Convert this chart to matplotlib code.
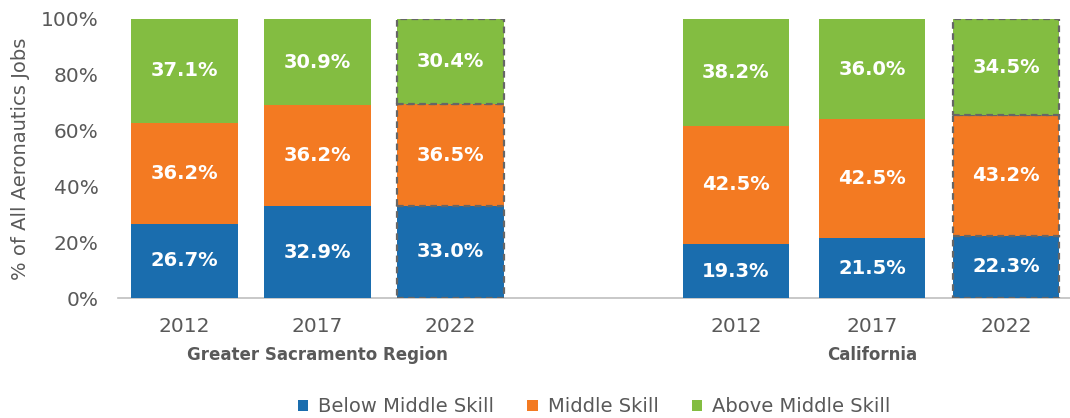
import matplotlib
matplotlib.use("Agg")
import matplotlib.pyplot as plt
from matplotlib.patches import Patch

years = ["2012", "2017", "2022", "2012", "2017", "2022"]
regions = ["Greater Sacramento Region", "California"]
below = [26.7, 32.9, 33.0, 19.3, 21.5, 22.3]
middle = [36.2, 36.2, 36.5, 42.5, 42.5, 43.2]
above = [37.1, 30.9, 30.4, 38.2, 36.0, 34.5]
series_names = ["Below Middle Skill", "Middle Skill", "Above Middle Skill"]
colors = ["#1A6DAE", "#F37A22", "#83BD41"]
projected = [False, False, True, False, False, True]

xpos = [0, 1, 2, 4.147, 5.17, 6.18]
W, H = 1070, 418
fig = plt.figure(figsize=(W/100, H/100), dpi=100)
ax = fig.add_axes([118/W, (H-298)/H, (1070-118)/W, (298-19)/H])

gray = "#595959"
fam = ["DejaVu Sans"]
bottoms = [0]*6
for vals, col, name in zip([below, middle, above], colors, series_names):
    for i, v in enumerate(vals):
        if projected[i]:
            ax.bar(xpos[i], v, 0.8, bottom=bottoms[i], color=col,
                   edgecolor="#666666", linewidth=1.6, linestyle=(0, (3, 2)), zorder=3)
        else:
            ax.bar(xpos[i], v, 0.8, bottom=bottoms[i], color=col, linewidth=0, zorder=3)
        ax.text(xpos[i], bottoms[i] + v/2, f"{v:.1f}%", ha="center", va="center",
                color="white", fontsize=14, fontweight="bold", family=fam, zorder=4)
        bottoms[i] += v

ax.set_xlim(-0.5, 6.66)
ax.set_ylim(0, 100)
ax.set_yticks([0, 20, 40, 60, 80, 100])
ax.set_yticklabels([f"{t}%" for t in [0, 20, 40, 60, 80, 100]])
ax.set_xticks(xpos)
ax.set_xticklabels(years)
ax.tick_params(axis="both", length=0, labelsize=14.5, colors=gray)
ax.tick_params(axis="x", pad=14)
ax.tick_params(axis="y", pad=14)
for s in ["top", "right", "left"]:
    ax.spines[s].set_visible(False)
ax.spines["bottom"].set_color("#BFBFBF")
ax.spines["bottom"].set_linewidth(1.2)
ax.set_ylabel("% of All Aeronautics Jobs", fontsize=14, color=gray, labelpad=8)

ax.text(xpos[1], -20.5, regions[0], transform=ax.transData, ha="center", va="center",
        fontsize=12, fontweight="bold", color=gray)
ax.text(xpos[4], -20.5, regions[1], transform=ax.transData, ha="center", va="center",
        fontsize=12, fontweight="bold", color=gray)

handles = [Patch(facecolor=c, label=n) for c, n in zip(colors, series_names)]
fig.legend(handles=handles, loc="center", bbox_to_anchor=(594/W, 1-407/H), ncol=3,
           frameon=False, fontsize=14, labelcolor=gray, handlelength=0.55, handleheight=0.55,
           handletextpad=0.5, columnspacing=1.7)

fig.savefig("out.png", dpi=100)
